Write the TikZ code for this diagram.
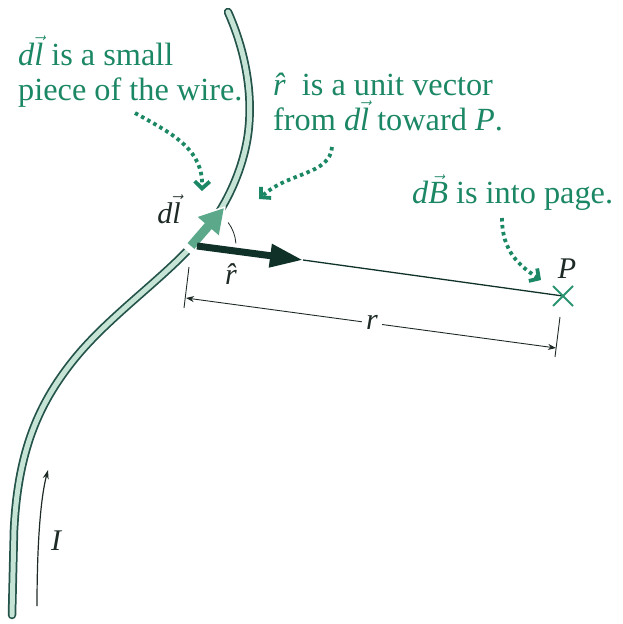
\documentclass[tikz,border=0pt]{standalone}
\usepackage{amsmath}
\usepackage{fontspec}
\setmainfont{Liberation Serif}
\usetikzlibrary{arrows.meta,calc}
\definecolor{tgreen}{HTML}{1C8765}
\definecolor{wfill}{HTML}{C6E4D6}
\definecolor{wline}{HTML}{24534A}
\definecolor{dlcol}{HTML}{5BA88B}
\definecolor{rcol}{HTML}{0F3128}
\definecolor{xcol}{HTML}{2A9470}
\definecolor{ink}{HTML}{1E2A26}
\newcommand{\itl}[1]{\mbox{\itshape #1}}
\newcommand{\vecit}[1]{$\vec{\itl{#1}}$}
\newcommand{\hatit}[1]{{\itshape\^{#1}}}
\tikzset{
  caption/.style={text=tgreen, anchor=base west, inner sep=0pt, font=\fontsize{32.3}{35}\selectfont},
  lbl/.style={text=ink, inner sep=0pt, font=\fontsize{30}{34}\selectfont\itshape},
  dotarrow/.style={tgreen, line width=3.8pt, dash pattern=on 3.5pt off 3.5pt,
    -{Straight Barb[length=7pt,width=15pt,line width=3.8pt]}},
  dimline/.style={ink, line width=0.9pt},
}
\begin{document}
\begin{tikzpicture}[x=1pt,y=-1pt]
\useasboundingbox (0,0) rectangle (623,624);
% wire
\def\wirepath{(228,12) .. controls (245,50) and (252,90) .. (249,125) .. controls (246,165) and (225,215) .. (190,248) .. controls (155,285) and (105,320) .. (72,362) .. controls (39,404) and (18,450) .. (14,530) -- (12,615)}
\draw[wline, line width=8.5pt, line cap=round] \wirepath;
\draw[wfill, line width=5pt, line cap=round] \wirepath;
% key points
\coordinate (dlA) at (191,246);
\coordinate (dlB) at (224,208);
\coordinate (O) at (197,246);
\coordinate (rT) at (303,260);
\coordinate (P) at (563,296);
% white halo and dl arrow
\draw[white, line width=14pt, -{Triangle[length=28pt,width=34pt]}] (187,251) -- (226,206);
\draw[dlcol, line width=9pt, -{Triangle[length=24pt,width=26pt]}] (dlA) -- (dlB);
% rhat arrow and line to P
\draw[rcol, line width=7pt, -{Triangle[length=33pt,width=22pt]}] (O) -- (rT);
\draw[rcol, line width=1.3pt] (rT) -- (P);
% angle arc
\draw[ink, line width=0.8pt] (O) ++(-37:39) arc[start angle=-37, end angle=-4, radius=39];
% cross at P
\draw[xcol, line width=2pt] ($(P)+(-10,-10)$) -- ($(P)+(10,10)$);
\draw[xcol, line width=2pt] ($(P)+(-10,10)$) -- ($(P)+(10,-10)$);
\node[lbl, anchor=base] (Plbl) at (567,278) {P};
% labels
\node[lbl, anchor=base] (dllbl) at (169,223) {d\vecit{l}};
\node[lbl] (rhatlbl) at (231,274) {\hatit{r}};
% dimension line
\coordinate (tL1) at (189,267);
\coordinate (tL2) at (184,308);
\coordinate (tR1) at (560,317);
\coordinate (tR2) at (555,357);
\coordinate (dL) at (186,298);
\coordinate (dR) at (556,348);
\draw[dimline] (tL1) -- (tL2);
\draw[dimline] (tR1) -- (tR2);
\draw[dimline, {Stealth[length=8pt,width=6pt]}-{Stealth[length=8pt,width=6pt]}] (dL) -- (dR);
\node[lbl, fill=white, inner sep=4pt] (rlbl) at (372,322) {r};
% current
\coordinate (I0) at (37,606);
\coordinate (I1) at (48,470);
\draw[ink, line width=1.2pt, -{Stealth[length=9pt,width=6pt]}] (I0) .. controls (37,550) and (40,500) .. (I1);
\node[lbl] (Ilbl) at (56,541) {I};
% captions
\node[caption] (c1a) at (18,65) {\itl{d}\vecit{l} is a small};
\node[caption] (c1b) at (18,100) {piece of the wire.};
\node[caption] (c2a) at (273,95) {\hatit{r}\enspace is a unit vector};
\node[caption] (c2b) at (273,130) {from \itl{d}\vecit{l} toward \itl{P}.};
\node[caption] (c3) at (412,203) {\itl{d}\vecit{B} is into page.};
% dotted arrows
\coordinate (a1s) at (135,113);
\coordinate (a1e) at (202,191);
\coordinate (a2s) at (332,147);
\coordinate (a2e) at (259,199);
\coordinate (a3s) at (502,218);
\coordinate (a3e) at (541,280);
\draw[dotarrow] (a1s) .. controls (175,135) and (203,150) .. (a1e);
\draw[dotarrow] (a2s) .. controls (330,175) and (288,172) .. (a2e);
\draw[dotarrow] (a3s) .. controls (502,252) and (520,266) .. (a3e);
\end{tikzpicture}
\end{document}
